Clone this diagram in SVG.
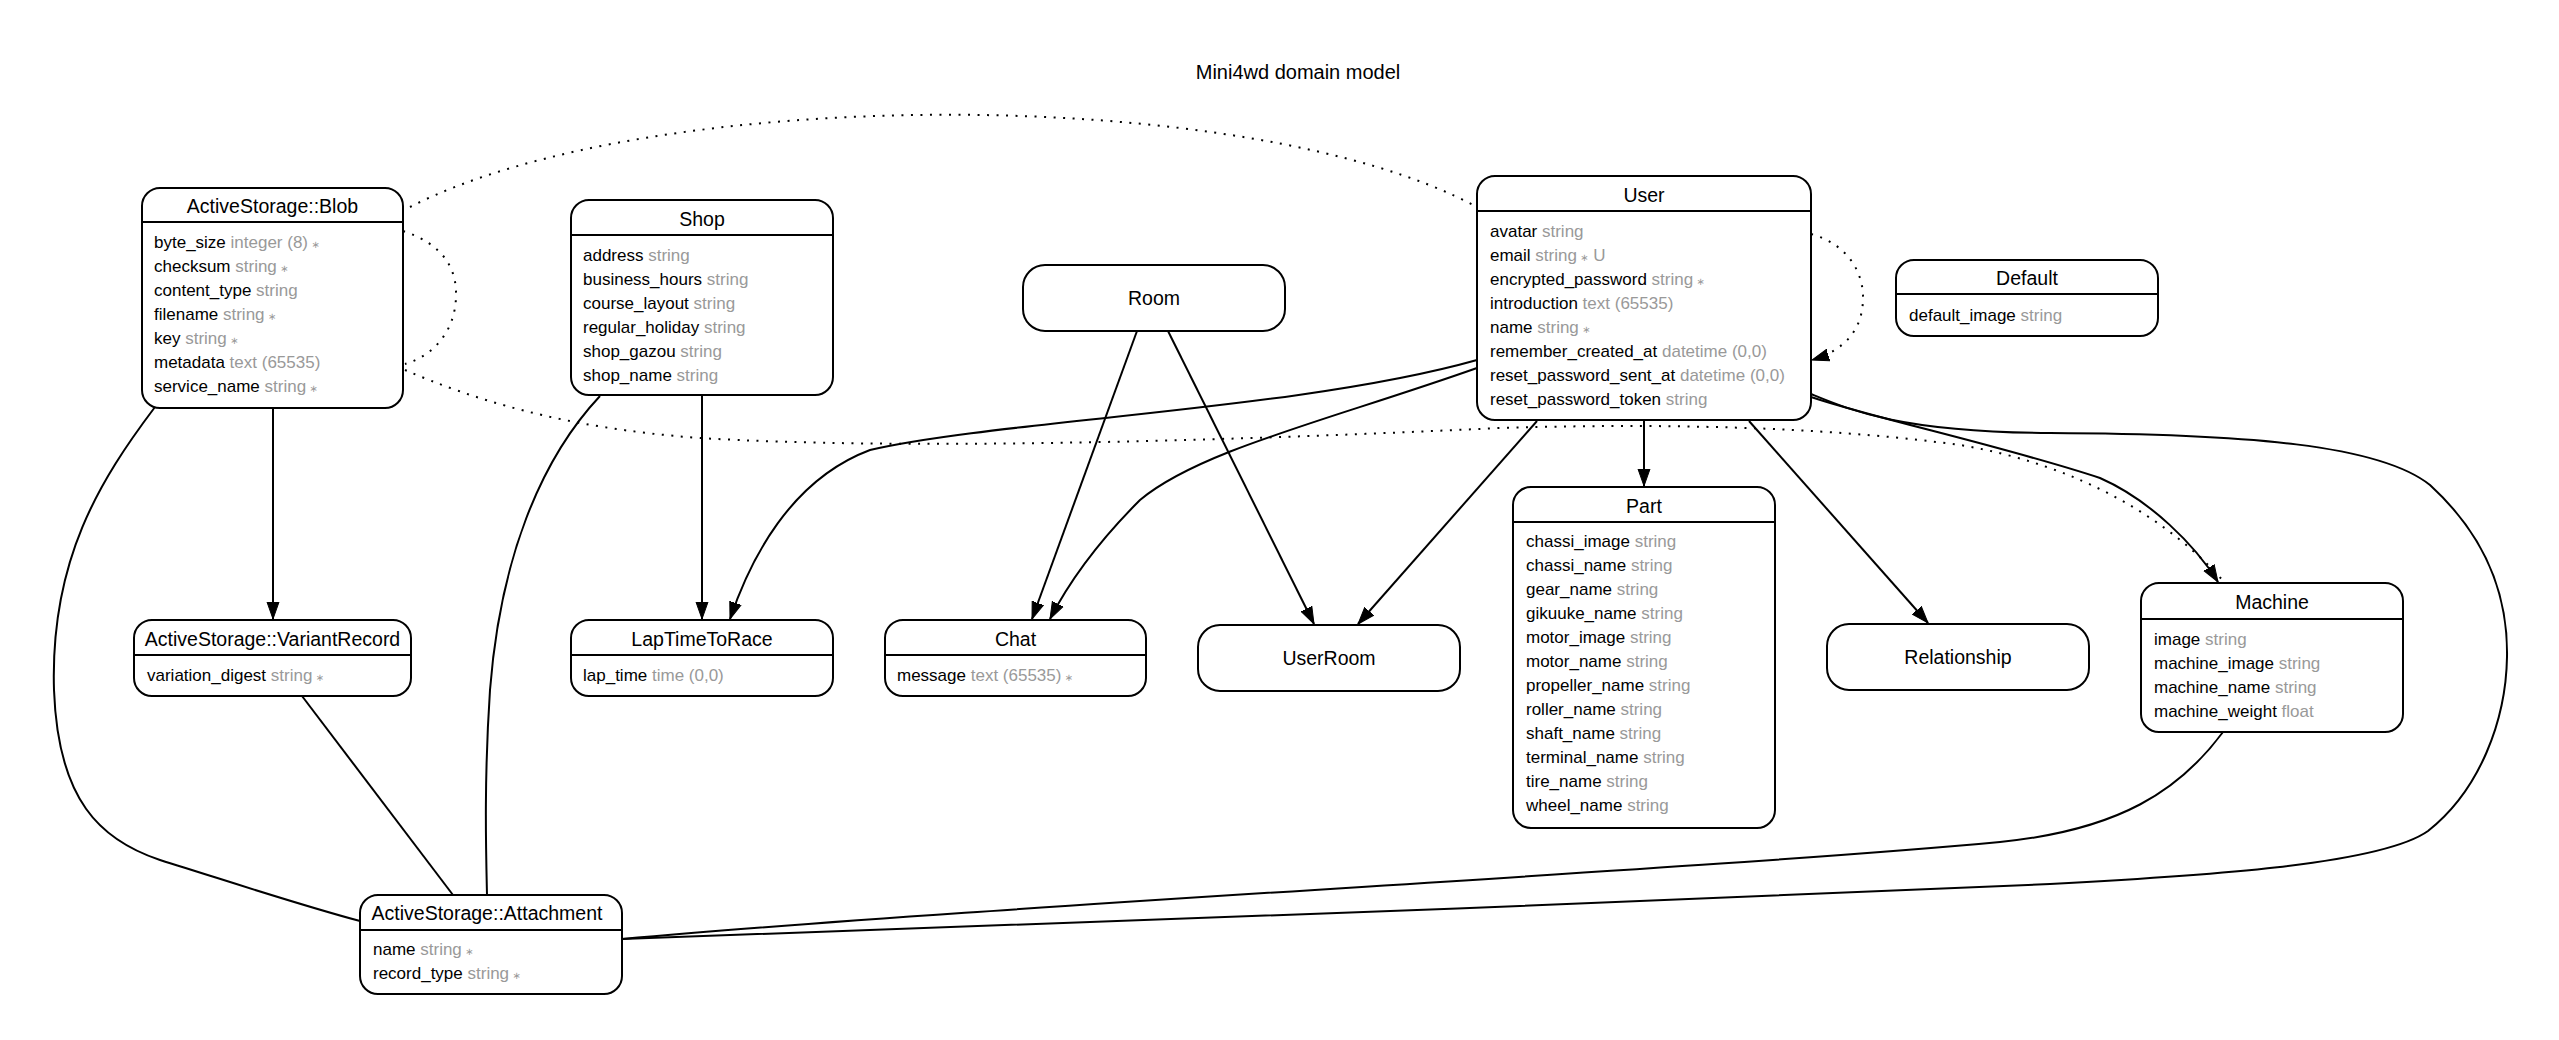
<svg xmlns="http://www.w3.org/2000/svg" width="2559" height="1040" viewBox="0 0 2559 1040">
  <style>
    text { font-family: "Liberation Sans", Arial, Helvetica, sans-serif; fill: #000; }
    .title { font-size: 20px; text-anchor: middle; }
    .hd { font-size: 19.5px; text-anchor: middle; }
    .row { font-size: 17px; }
    .t { fill: #999999; }
    .m { fill: #999999; font-family: "DejaVu Sans", sans-serif; font-size: 10px; }
    .box { fill: #fff; stroke: #000; stroke-width: 2; }
    .div { stroke: #000; stroke-width: 2; }
    .e { fill: none; stroke: #000; stroke-width: 2; }
    .d { fill: none; stroke: #000; stroke-width: 2; stroke-dasharray: 2 7.5; }
    .a { marker-end: url(#arr); }
  </style>
  <defs>
    <marker id="arr" markerUnits="userSpaceOnUse" markerWidth="20" markerHeight="16" viewBox="0 0 20 16" refX="17" refY="7" orient="auto">
      <path d="M0,1 L17,7 L0,13 Z" fill="#000" stroke="#000" stroke-width="1"/>
    </marker>
  </defs>

  <rect x="0" y="0" width="2559" height="1040" fill="#fff"/>
  <text class="title" x="1298" y="79">Mini4wd domain model</text>

  <!-- connectors -->
  <g id="connectors">
    <!-- indirect (dotted) relationships -->
    <path class="d" d="M410,207 C650,84 1250,84 1477,207"/>
    <path class="d" d="M403,231 C445,245 457,270 456,297 C455,330 435,355 405,364"/>
    <path class="d" d="M405,370 C470,398 560,428 700,438 C900,450 1200,442 1500,428 C1700,422 1850,430 1960,445 C2080,465 2170,520 2225,583"/>
    <path class="d a" d="M1811,234 C1850,245 1864,275 1863,300 C1862,330 1845,350 1812,360"/>

    <!-- direct relationships -->
    <path class="e a" d="M273,408 L273,619"/>
    <path class="e" d="M155,407 C100,480 50,560 54,690 C58,800 100,840 160,860 C240,885 300,905 360,921"/>
    <path class="e" d="M302,696 L453,895"/>
    <path class="e" d="M600,396 C540,460 500,560 490,690 C484,780 486,850 487,895"/>
    <path class="e a" d="M702,396 L702,619"/>
    <path class="e a" d="M1477,360 C1300,410 1000,420 870,450 C790,480 750,560 730,619"/>
    <path class="e a" d="M1477,368 C1330,420 1200,450 1140,500 C1100,540 1070,580 1050,619"/>
    <path class="e a" d="M1137,331 L1032,619"/>
    <path class="e a" d="M1168,331 L1314,624"/>
    <path class="e a" d="M1537,421 L1358,624"/>
    <path class="e a" d="M1644,421 L1644,486"/>
    <path class="e a" d="M1749,421 L1928,623"/>
    <path class="e a" d="M1811,397 C1880,420 2000,445 2100,478 C2150,500 2195,545 2218,582"/>
    <path class="e" d="M1811,394 C1850,410 1900,432 2050,433 C2250,434 2380,445 2430,485 C2490,540 2508,600 2507,657 C2506,720 2480,790 2428,831 C2380,865 2200,876 2050,884 C1600,905 1000,925 622,939"/>
    <path class="e" d="M2223,732 C2180,790 2120,830 2000,842 C1700,870 1000,905 622,939"/>
  </g>

  <!-- ActiveStorage::Blob -->
  <g id="node-blob">
    <rect class="box" x="142" y="188" width="261" height="220" rx="18"/>
    <line class="div" x1="142" y1="222" x2="403" y2="222"/>
    <text class="hd" x="272.5" y="213">ActiveStorage::Blob</text>
    <text class="row" x="154" y="248">byte_size<tspan class="t"> integer (8)</tspan><tspan class="m"> ∗</tspan></text>
    <text class="row" x="154" y="272">checksum<tspan class="t"> string</tspan><tspan class="m"> ∗</tspan></text>
    <text class="row" x="154" y="296">content_type<tspan class="t"> string</tspan></text>
    <text class="row" x="154" y="320">filename<tspan class="t"> string</tspan><tspan class="m"> ∗</tspan></text>
    <text class="row" x="154" y="344">key<tspan class="t"> string</tspan><tspan class="m"> ∗</tspan></text>
    <text class="row" x="154" y="368">metadata<tspan class="t"> text (65535)</tspan></text>
    <text class="row" x="154" y="392">service_name<tspan class="t"> string</tspan><tspan class="m"> ∗</tspan></text>
  </g>

  <!-- Shop -->
  <g id="node-shop">
    <rect class="box" x="571" y="200" width="262" height="195" rx="18"/>
    <line class="div" x1="571" y1="235" x2="833" y2="235"/>
    <text class="hd" x="702" y="226">Shop</text>
    <text class="row" x="583" y="261">address<tspan class="t"> string</tspan></text>
    <text class="row" x="583" y="285">business_hours<tspan class="t"> string</tspan></text>
    <text class="row" x="583" y="309">course_layout<tspan class="t"> string</tspan></text>
    <text class="row" x="583" y="333">regular_holiday<tspan class="t"> string</tspan></text>
    <text class="row" x="583" y="357">shop_gazou<tspan class="t"> string</tspan></text>
    <text class="row" x="583" y="381">shop_name<tspan class="t"> string</tspan></text>
  </g>

  <!-- Room -->
  <g id="node-room">
    <rect class="box" x="1023" y="265" width="262" height="66" rx="22"/>
    <text class="hd" x="1154" y="305">Room</text>
  </g>

  <!-- User -->
  <g id="node-user">
    <rect class="box" x="1477" y="176" width="334" height="244" rx="18"/>
    <line class="div" x1="1477" y1="211" x2="1811" y2="211"/>
    <text class="hd" x="1644" y="202">User</text>
    <text class="row" x="1490" y="237">avatar<tspan class="t"> string</tspan></text>
    <text class="row" x="1490" y="261">email<tspan class="t"> string</tspan><tspan class="m"> ∗</tspan><tspan class="t"> U</tspan></text>
    <text class="row" x="1490" y="285">encrypted_password<tspan class="t"> string</tspan><tspan class="m"> ∗</tspan></text>
    <text class="row" x="1490" y="309">introduction<tspan class="t"> text (65535)</tspan></text>
    <text class="row" x="1490" y="333">name<tspan class="t"> string</tspan><tspan class="m"> ∗</tspan></text>
    <text class="row" x="1490" y="357">remember_created_at<tspan class="t"> datetime (0,0)</tspan></text>
    <text class="row" x="1490" y="381">reset_password_sent_at<tspan class="t"> datetime (0,0)</tspan></text>
    <text class="row" x="1490" y="405">reset_password_token<tspan class="t"> string</tspan></text>
  </g>

  <!-- Default -->
  <g id="node-default">
    <rect class="box" x="1896" y="260" width="262" height="76" rx="18"/>
    <line class="div" x1="1896" y1="294" x2="2158" y2="294"/>
    <text class="hd" x="2027" y="285">Default</text>
    <text class="row" x="1909" y="321">default_image<tspan class="t"> string</tspan></text>
  </g>

  <!-- ActiveStorage::VariantRecord -->
  <g id="node-variant-record">
    <rect class="box" x="134" y="620" width="277" height="76" rx="18"/>
    <line class="div" x1="134" y1="655" x2="411" y2="655"/>
    <text class="hd" x="272.5" y="646">ActiveStorage::VariantRecord</text>
    <text class="row" x="147" y="681">variation_digest<tspan class="t"> string</tspan><tspan class="m"> ∗</tspan></text>
  </g>

  <!-- LapTimeToRace -->
  <g id="node-lap-time">
    <rect class="box" x="571" y="620" width="262" height="76" rx="18"/>
    <line class="div" x1="571" y1="655" x2="833" y2="655"/>
    <text class="hd" x="702" y="646">LapTimeToRace</text>
    <text class="row" x="583" y="681">lap_time<tspan class="t"> time (0,0)</tspan></text>
  </g>

  <!-- Chat -->
  <g id="node-chat">
    <rect class="box" x="885" y="620" width="261" height="76" rx="18"/>
    <line class="div" x1="885" y1="655" x2="1146" y2="655"/>
    <text class="hd" x="1015.5" y="646">Chat</text>
    <text class="row" x="897" y="681">message<tspan class="t"> text (65535)</tspan><tspan class="m"> ∗</tspan></text>
  </g>

  <!-- UserRoom -->
  <g id="node-user-room">
    <rect class="box" x="1198" y="625" width="262" height="66" rx="22"/>
    <text class="hd" x="1329" y="665">UserRoom</text>
  </g>

  <!-- Part -->
  <g id="node-part">
    <rect class="box" x="1513" y="487" width="262" height="341" rx="18"/>
    <line class="div" x1="1513" y1="522" x2="1775" y2="522"/>
    <text class="hd" x="1644" y="513">Part</text>
    <text class="row" x="1526" y="547">chassi_image<tspan class="t"> string</tspan></text>
    <text class="row" x="1526" y="571">chassi_name<tspan class="t"> string</tspan></text>
    <text class="row" x="1526" y="595">gear_name<tspan class="t"> string</tspan></text>
    <text class="row" x="1526" y="619">gikuuke_name<tspan class="t"> string</tspan></text>
    <text class="row" x="1526" y="643">motor_image<tspan class="t"> string</tspan></text>
    <text class="row" x="1526" y="667">motor_name<tspan class="t"> string</tspan></text>
    <text class="row" x="1526" y="691">propeller_name<tspan class="t"> string</tspan></text>
    <text class="row" x="1526" y="715">roller_name<tspan class="t"> string</tspan></text>
    <text class="row" x="1526" y="739">shaft_name<tspan class="t"> string</tspan></text>
    <text class="row" x="1526" y="763">terminal_name<tspan class="t"> string</tspan></text>
    <text class="row" x="1526" y="787">tire_name<tspan class="t"> string</tspan></text>
    <text class="row" x="1526" y="811">wheel_name<tspan class="t"> string</tspan></text>
  </g>

  <!-- Relationship -->
  <g id="node-relationship">
    <rect class="box" x="1827" y="624" width="262" height="66" rx="22"/>
    <text class="hd" x="1958" y="664">Relationship</text>
  </g>

  <!-- Machine -->
  <g id="node-machine">
    <rect class="box" x="2141" y="583" width="262" height="149" rx="18"/>
    <line class="div" x1="2141" y1="619" x2="2403" y2="619"/>
    <text class="hd" x="2272" y="609">Machine</text>
    <text class="row" x="2154" y="645">image<tspan class="t"> string</tspan></text>
    <text class="row" x="2154" y="669">machine_image<tspan class="t"> string</tspan></text>
    <text class="row" x="2154" y="693">machine_name<tspan class="t"> string</tspan></text>
    <text class="row" x="2154" y="717">machine_weight<tspan class="t"> float</tspan></text>
  </g>

  <!-- ActiveStorage::Attachment -->
  <g id="node-attachment">
    <rect class="box" x="360" y="895" width="262" height="99" rx="18"/>
    <line class="div" x1="360" y1="930" x2="622" y2="930"/>
    <text class="hd" x="487" y="920">ActiveStorage::Attachment</text>
    <text class="row" x="373" y="955">name<tspan class="t"> string</tspan><tspan class="m"> ∗</tspan></text>
    <text class="row" x="373" y="979">record_type<tspan class="t"> string</tspan><tspan class="m"> ∗</tspan></text>
  </g>
</svg>
